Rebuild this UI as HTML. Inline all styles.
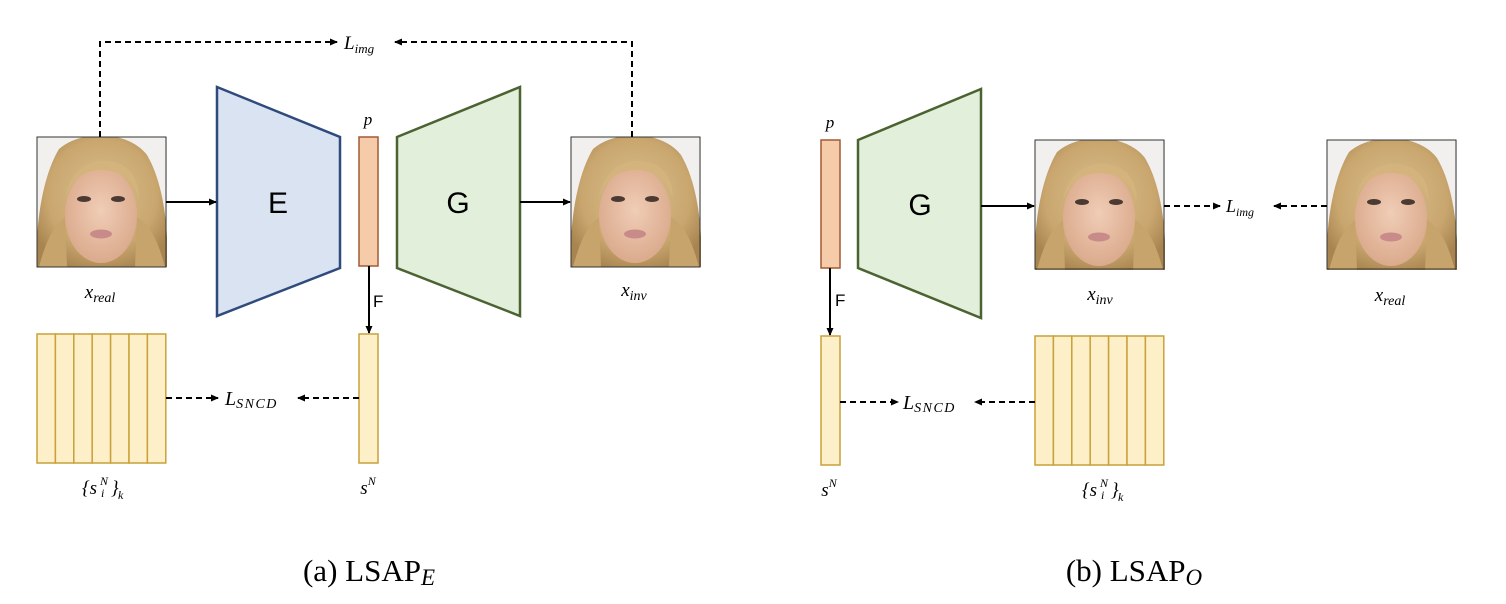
<!DOCTYPE html>
<html><head><meta charset="utf-8"><style>
html,body{margin:0;padding:0;background:#fff;}
svg{display:block}
.m{font-family:"Liberation Serif",serif;font-style:italic;}
.s{font-family:"Liberation Sans",sans-serif;}
</style></head><body>
<svg width="1506" height="604" viewBox="0 0 1506 604" xmlns="http://www.w3.org/2000/svg">
<defs>
<marker id="ah" markerWidth="8" markerHeight="8" refX="7" refY="4" orient="auto" markerUnits="userSpaceOnUse"><path d="M0,0.5 L8,4 L0,7.5 z" fill="#000"/></marker>
<radialGradient id="hair" cx="0.5" cy="0.45" r="0.6"><stop offset="0" stop-color="#d9bf8e"/><stop offset="0.7" stop-color="#c9a66e"/><stop offset="1" stop-color="#a88550"/></radialGradient>
<radialGradient id="skin" cx="0.5" cy="0.45" r="0.6"><stop offset="0" stop-color="#f0cdb6"/><stop offset="1" stop-color="#d9a789"/></radialGradient>
<symbol id="face" viewBox="0 0 130 130">
<rect width="130" height="130" fill="#f1f0ef"/>
<path d="M0,130 C-2,90 5,40 22,12 C45,-8 92,-6 110,18 C126,45 132,90 130,130 z" fill="url(#hair)"/>
<ellipse cx="64" cy="78" rx="36" ry="48" fill="url(#skin)"/>
<path d="M28,62 C33,30 55,24 66,24 C87,24 102,35 102,62 C96,40 80,33 64,33 C48,33 34,42 28,62z" fill="#d4b47c"/>
<ellipse cx="47" cy="62" rx="7" ry="3" fill="#4a3a32"/>
<ellipse cx="81" cy="62" rx="7" ry="3" fill="#4a3a32"/>
<ellipse cx="64" cy="97" rx="11" ry="4.5" fill="#c98a8a"/>
<path d="M2,130 C10,100 18,88 28,80 L30,130z" fill="#c7a46c"/>
<path d="M128,130 C120,100 112,88 100,80 L98,130z" fill="#c7a46c"/>
</symbol>
</defs>

<!-- Panel A -->
<use href="#face" x="37" y="137" width="130" height="130"/>
<rect x="37" y="137" width="129" height="130" fill="none" stroke="#333" stroke-width="1"/>
<use href="#face" x="571" y="137" width="130" height="130"/>
<rect x="571" y="137" width="129" height="130" fill="none" stroke="#333" stroke-width="1"/>

<polyline points="100,137 100,42 337,42" fill="none" stroke="#000" stroke-width="2" stroke-dasharray="6,4" marker-end="url(#ah)"/>
<polyline points="632,137 632,42 395,42" fill="none" stroke="#000" stroke-width="2" stroke-dasharray="6,4" marker-end="url(#ah)"/>
<text x="344" y="49" class="m" font-size="19">L<tspan font-size="13" dy="4">img</tspan></text>

<polygon points="217,87 340,137 340,268 217,316" fill="#dae3f1" stroke="#2f4a7c" stroke-width="2.5"/>
<text x="278" y="213" class="s" font-size="30" text-anchor="middle">E</text>
<line x1="166" y1="202" x2="216" y2="202" stroke="#000" stroke-width="2" marker-end="url(#ah)"/>

<rect x="359" y="137" width="19" height="129" fill="#f5cbaa" stroke="#a25a35" stroke-width="1.5"/>
<text x="368" y="125" class="m" font-size="17" text-anchor="middle">p</text>

<polygon points="397,137 520,87 520,316 397,268" fill="#e2efda" stroke="#4b6331" stroke-width="2.5"/>
<text x="458" y="213" class="s" font-size="30" text-anchor="middle">G</text>
<line x1="520" y1="202" x2="570" y2="202" stroke="#000" stroke-width="2" marker-end="url(#ah)"/>

<text x="100" y="298" class="m" font-size="19" text-anchor="middle">x<tspan font-size="14" dy="4">real</tspan></text>
<text x="634" y="296" class="m" font-size="19" text-anchor="middle">x<tspan font-size="14" dy="4">inv</tspan></text>

<line x1="369" y1="266" x2="369" y2="333" stroke="#000" stroke-width="2" marker-end="url(#ah)"/>
<text x="373" y="307" class="s" font-size="17">F</text>

<rect x="359" y="334" width="19" height="129" fill="#fdf0c9" stroke="#c9a13a" stroke-width="1.5"/>
<text x="368" y="494" class="m" font-size="19" text-anchor="middle">s<tspan font-size="12" dy="-9">N</tspan></text>

<g fill="#fdf0c9" stroke="#c9a13a" stroke-width="1.5">
<rect x="37" y="334" width="18.4" height="129"/><rect x="55.4" y="334" width="18.4" height="129"/><rect x="73.8" y="334" width="18.4" height="129"/><rect x="92.2" y="334" width="18.4" height="129"/><rect x="110.6" y="334" width="18.4" height="129"/><rect x="129" y="334" width="18.4" height="129"/><rect x="147.4" y="334" width="18.4" height="129"/>
</g>
<g class="m" font-size="19">
<text x="82" y="494">{s</text><text x="100" y="485" font-size="12">N</text><text x="101" y="497" font-size="12">i</text><text x="111" y="494">}</text><text x="118" y="499" font-size="12">k</text>
</g>

<line x1="166" y1="398" x2="218" y2="398" stroke="#000" stroke-width="2" stroke-dasharray="6,4" marker-end="url(#ah)"/>
<line x1="359" y1="398" x2="298" y2="398" stroke="#000" stroke-width="2" stroke-dasharray="6,4" marker-end="url(#ah)"/>
<text x="225" y="405" class="m" font-size="20">L<tspan font-size="14" dy="3" letter-spacing="1.5">SNCD</tspan></text>

<text x="369" y="581" font-family="Liberation Serif,serif" font-size="31" text-anchor="middle">(a) LSAP<tspan font-style="italic" font-size="23" dy="4">E</tspan></text>

<!-- Panel B -->
<rect x="821" y="140" width="19" height="128" fill="#f5cbaa" stroke="#a25a35" stroke-width="1.5"/>
<text x="830" y="128" class="m" font-size="17" text-anchor="middle">p</text>
<polygon points="858,140 981,89 981,318 858,268" fill="#e2efda" stroke="#4b6331" stroke-width="2.5"/>
<text x="920" y="215" class="s" font-size="30" text-anchor="middle">G</text>
<line x1="981" y1="206" x2="1034" y2="206" stroke="#000" stroke-width="2" marker-end="url(#ah)"/>

<use href="#face" x="1035" y="140" width="130" height="130"/>
<rect x="1035" y="140" width="129" height="129" fill="none" stroke="#333" stroke-width="1"/>
<use href="#face" x="1327" y="140" width="130" height="130"/>
<rect x="1327" y="140" width="129" height="129" fill="none" stroke="#333" stroke-width="1"/>

<line x1="1164" y1="206" x2="1220" y2="206" stroke="#000" stroke-width="2" stroke-dasharray="6,4" marker-end="url(#ah)"/>
<line x1="1327" y1="206" x2="1274" y2="206" stroke="#000" stroke-width="2" stroke-dasharray="6,4" marker-end="url(#ah)"/>
<text x="1226" y="212" class="m" font-size="18">L<tspan font-size="12" dy="4">img</tspan></text>

<text x="1100" y="300" class="m" font-size="19" text-anchor="middle">x<tspan font-size="14" dy="4">inv</tspan></text>
<text x="1390" y="301" class="m" font-size="19" text-anchor="middle">x<tspan font-size="14" dy="4">real</tspan></text>

<line x1="830" y1="268" x2="830" y2="335" stroke="#000" stroke-width="2" marker-end="url(#ah)"/>
<text x="835" y="306" class="s" font-size="17">F</text>
<rect x="821" y="336" width="19" height="129" fill="#fdf0c9" stroke="#c9a13a" stroke-width="1.5"/>
<text x="829" y="496" class="m" font-size="19" text-anchor="middle">s<tspan font-size="12" dy="-9">N</tspan></text>

<g fill="#fdf0c9" stroke="#c9a13a" stroke-width="1.5">
<rect x="1035" y="336" width="18.4" height="129"/><rect x="1053.4" y="336" width="18.4" height="129"/><rect x="1071.8" y="336" width="18.4" height="129"/><rect x="1090.2" y="336" width="18.4" height="129"/><rect x="1108.6" y="336" width="18.4" height="129"/><rect x="1127" y="336" width="18.4" height="129"/><rect x="1145.4" y="336" width="18.4" height="129"/>
</g>
<g class="m" font-size="19">
<text x="1082" y="496">{s</text><text x="1100" y="487" font-size="12">N</text><text x="1101" y="499" font-size="12">i</text><text x="1111" y="496">}</text><text x="1118" y="501" font-size="12">k</text>
</g>

<line x1="840" y1="402" x2="898" y2="402" stroke="#000" stroke-width="2" stroke-dasharray="6,4" marker-end="url(#ah)"/>
<line x1="1035" y1="402" x2="975" y2="402" stroke="#000" stroke-width="2" stroke-dasharray="6,4" marker-end="url(#ah)"/>
<text x="903" y="409" class="m" font-size="20">L<tspan font-size="14" dy="3" letter-spacing="1.5">SNCD</tspan></text>

<text x="1134" y="581" font-family="Liberation Serif,serif" font-size="31" text-anchor="middle">(b) LSAP<tspan font-style="italic" font-size="23" dy="4">O</tspan></text>
</svg>
</body></html>
